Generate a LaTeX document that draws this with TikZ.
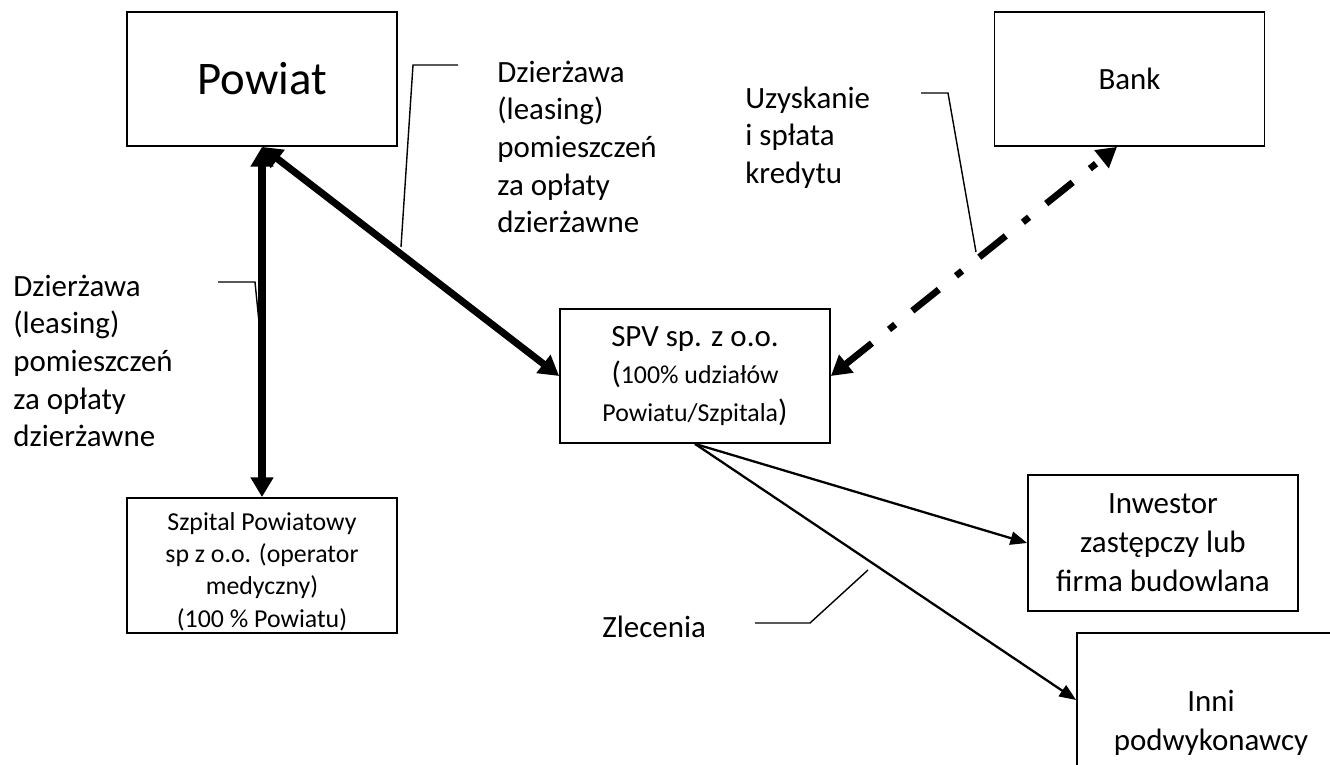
\documentclass[tikz,border=0pt]{standalone}
\usepackage{fontspec}
\setmainfont{Carlito}
\usepackage{tikz}
\usetikzlibrary{arrows.meta}

\newcommand{\sizeBig}{\fontsize{26.6pt}{32pt}\selectfont}
\newcommand{\sizeBody}{\fontsize{17.6pt}{21.4pt}\selectfont}
\newcommand{\sizeSmall}{\fontsize{14.7pt}{18.4pt}\selectfont}

\tikzset{
	box/.style={draw, line width=1pt, fill=white, minimum width=5.4cm, minimum height=2.68cm, inner sep=0pt, align=center, font=\sizeBody},
	lbl/.style={inner sep=0pt, align=left, font=\sizeBody},
	thicklink/.style={line width=4pt, {Triangle[width=12.5pt,length=11.3pt]}-{Triangle[width=12.5pt,length=11.3pt]}},
	dashlink/.style={line width=3.8pt, dash pattern=on 19.3pt off 12.5pt on 4.5pt off 12.5pt, {Triangle[width=12.5pt,length=11.3pt]}-{Triangle[width=12.5pt,length=11.3pt]}},
	thinlink/.style={line width=1.3pt, -{Triangle[width=7.5pt,length=9.5pt]}},
	callout/.style={line width=0.8pt}
}

\begin{document}
\begin{tikzpicture}
		
		\useasboundingbox (0cm,0cm) rectangle (26.6cm,-15.3cm);
		\clip (0cm,0cm) rectangle (26.6cm,-15.3cm);
		\fill[white] (0cm,0cm) rectangle (26.6cm,-15.3cm);

		% boxes
		\node[box, font=\sizeBig] (powiat) at (5.24cm,-1.58cm) {Powiat};
		\node[box] (bank) at (22.59cm,-1.58cm) {Bank};
		\node[box] (spv) at (13.9cm,-7.52cm) {SPV sp. z o.o.\\({\sizeSmall 100\% udziałów}\\{\sizeSmall Powiatu/Szpitala})};
		\node[box, font=\sizeSmall, minimum height=2.7cm] (szpital) at (5.24cm,-11.31cm) {\rule{0pt}{17pt}Szpital Powiatowy\\sp z o.o. (operator\\medyczny)\\(100 \% Powiatu)};
		\node[box, font=\fontsize{17.6pt}{22.1pt}\selectfont, minimum height=2.72cm] (inwestor) at (23.26cm,-10.86cm) {Inwestor\\zastępczy lub\\firma budowlana};
		\node[box, font=\fontsize{17.6pt}{22.1pt}\selectfont, minimum width=5.36cm, minimum height=3.6cm] (inni) at (24.22cm,-14.46cm) {Inni\\podwykonawcy};

		% labels
		\node[lbl, anchor=west] (dzierzawa top) at (9.94cm,-2.94cm) {Dzierżawa\\(leasing)\\pomieszczeń\\za opłaty\\dzierżawne};
		\node[lbl, anchor=west] (dzierzawa left) at (0.26cm,-7.22cm) {Dzierżawa\\(leasing)\\pomieszczeń\\za opłaty\\dzierżawne};
		\node[lbl, anchor=west] (kredyt) at (14.9cm,-2.75cm) {Uzyskanie\\i spłata\\kredytu};
		\node[lbl, anchor=west] (zlecenia) at (12.04cm,-12.54cm) {Zlecenia};

		% connectors
		\draw[thicklink] (powiat.south) -- (szpital.north);
		\draw[thicklink] (powiat.south) -- (spv.west);
		\draw[dashlink] (spv.east) -- ([xshift=-0.25cm]bank.south);
		\draw[thinlink] (spv.south) -- (inwestor.west);
		\draw[thinlink] (spv.south) -- ([yshift=0.46cm]inni.west);

		% callout lines
		\coordinate (top a) at (9.16cm,-1.30cm);
		\coordinate (top b) at (8.26cm,-1.30cm);
		\coordinate (top c) at (8.02cm,-4.94cm);
		\coordinate (left a) at (4.36cm,-5.64cm);
		\coordinate (left b) at (5.10cm,-5.64cm);
		\coordinate (left c) at (5.18cm,-6.44cm);
		\coordinate (kredyt a) at (18.42cm,-1.86cm);
		\coordinate (kredyt b) at (18.96cm,-1.86cm);
		\coordinate (kredyt c) at (19.52cm,-5.04cm);
		\coordinate (zlec a) at (15.10cm,-12.46cm);
		\coordinate (zlec b) at (16.20cm,-12.46cm);
		\coordinate (zlec c) at (17.36cm,-11.40cm);
		\draw[callout] (top a) -- (top b) -- (top c);
		\draw[callout] (left a) -- (left b) -- (left c);
		\draw[callout] (kredyt a) -- (kredyt b) -- (kredyt c);
		\draw[callout] (zlec a) -- (zlec b) -- (zlec c);
	\end{tikzpicture}
\end{document}
